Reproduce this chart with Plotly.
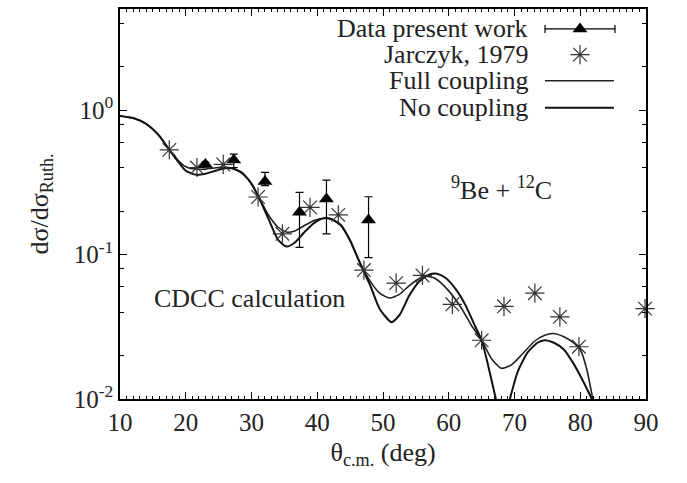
import plotly.graph_objects as go

# ---- data ----
data_x = [23.0, 27.3, 32.05, 37.3, 41.4, 47.8]
data_y = [0.42, 0.45, 0.32, 0.196, 0.242, 0.173]
data_err_plus = [0.015, 0.045, 0.05, 0.073, 0.085, 0.078]
data_err_minus = [0.015, 0.05, 0.02, 0.084, 0.103, 0.078]

jar_x = [17.5, 21.7, 25.7, 31.0, 34.7, 38.9, 43.2, 47.1, 52.0, 56.0, 60.55, 65.0, 68.4, 73.1, 76.9, 79.8, 89.85]
jar_y = [0.53, 0.40, 0.42, 0.25, 0.139, 0.212, 0.188, 0.078, 0.0634, 0.0716, 0.0452, 0.0255, 0.0438, 0.054, 0.037, 0.023, 0.0422]

full_x = [10, 12, 14, 16, 17.5, 19, 20, 21.5, 23, 25, 26.5, 28, 29.5, 31, 32.5, 34, 35.3, 36.5, 38, 39.5, 41, 42,
          43.5, 45, 46.5, 48, 49.5, 51, 52.5, 54, 55.5, 56.6, 58, 60, 62, 63.5, 65, 66.5, 68, 69.5, 71, 73, 74.5,
          75.9, 77.5, 79, 80, 81, 81.9, 82.5]
full_y = [0.91, 0.88, 0.80, 0.66, 0.53, 0.44, 0.405, 0.39, 0.39, 0.40, 0.40, 0.38, 0.33, 0.255, 0.19, 0.155, 0.143,
          0.145, 0.158, 0.172, 0.178, 0.176, 0.160, 0.125, 0.088, 0.066, 0.054, 0.050, 0.053, 0.061, 0.068, 0.0707,
          0.068, 0.056, 0.042, 0.032, 0.0255, 0.019, 0.0163, 0.0172, 0.020, 0.025, 0.0275, 0.0284, 0.027, 0.0245,
          0.022, 0.016, 0.0100, 0.007]

noc_x = [10, 12, 14, 16, 17.5, 19, 20, 21.6, 23, 24.5, 26, 27, 28.5, 30, 31, 32.5, 34, 35.3, 36.5, 38, 39.5, 41, 42,
         43.5, 45, 46.5, 48, 49.5, 51.3, 52.5, 54, 55.5, 57, 58.2, 59.5, 61, 62.5, 64, 65, 66, 67, 68.3, 69.3, 70.5,
         72, 73.5, 74.6, 76, 77.5, 79, 80, 81, 81.8, 82.3]
noc_y = [0.91, 0.88, 0.80, 0.66, 0.53, 0.43, 0.38, 0.356, 0.362, 0.38, 0.395, 0.395, 0.37, 0.31, 0.255, 0.18, 0.127,
         0.1135, 0.12, 0.142, 0.165, 0.178, 0.177, 0.162, 0.125, 0.087, 0.062, 0.042, 0.034, 0.038, 0.052, 0.065,
         0.0725, 0.0736, 0.069, 0.058, 0.045, 0.032, 0.0255, 0.017, 0.0108, 0.0065, 0.0100, 0.0155, 0.021, 0.0245,
         0.0255, 0.0245, 0.022, 0.0175, 0.0145, 0.0118, 0.0098, 0.007]

y_tickvals = [0.01, 0.1, 1]
y_ticktext = ["10<sup>-2</sup>", "10<sup>-1</sup>", "10<sup>0</sup>"]
y_minor = [0.02, 0.04, 0.06, 0.08, 0.2, 0.4, 0.6, 0.8, 2, 4]

legend_labels = ["Data present work", "Jarczyk, 1979", "Full coupling", "No coupling"]

FONT = "Liberation Serif, Times New Roman, serif"
FS = 26
TFS = 25
TXT = "#222"

fig = go.Figure()

fig.add_trace(go.Scatter(x=full_x, y=full_y, mode="lines", line=dict(color="#222", width=1.6, shape="spline", smoothing=0.6),
                         showlegend=False))
fig.add_trace(go.Scatter(x=noc_x, y=noc_y, mode="lines", line=dict(color="#111", width=2, shape="spline", smoothing=0.6),
                         showlegend=False))
fig.add_trace(go.Scatter(x=jar_x, y=jar_y, mode="markers",
                         marker=dict(symbol="asterisk-open", size=16, color="#333", line=dict(color="#333", width=1.2)),
                         showlegend=False, cliponaxis=False))
fig.add_trace(go.Scatter(x=data_x, y=data_y, mode="markers",
                         marker=dict(symbol="triangle-up", size=13, color="black"),
                         error_y=dict(type="data", symmetric=False, array=data_err_plus, arrayminus=data_err_minus,
                                      color="black", thickness=1.2, width=4),
                         showlegend=False))

# ---- manual gnuplot-style key (overlay axes in [0,1]) ----
key_y = [0.949, 0.883, 0.816, 0.747]
key_text_x = 0.7795
key_l, key_c, key_r = 0.808, 0.8745, 0.939
fig.add_trace(go.Scatter(x=[key_c], y=[key_y[0]], xaxis="x2", yaxis="y2", mode="markers",
                         marker=dict(symbol="triangle-up", size=13, color="black"),
                         error_x=dict(type="constant", value=key_c - key_l, color="black", thickness=1.2, width=4),
                         showlegend=False))
fig.add_trace(go.Scatter(x=[key_c], y=[key_y[1]], xaxis="x2", yaxis="y2", mode="markers",
                         marker=dict(symbol="asterisk-open", size=16, color="#333", line=dict(color="#333", width=1.2)),
                         showlegend=False))
fig.add_trace(go.Scatter(x=[key_l, key_r], y=[key_y[2], key_y[2]], xaxis="x2", yaxis="y2", mode="lines",
                         line=dict(color="#222", width=1.6), showlegend=False))
fig.add_trace(go.Scatter(x=[key_l, key_r], y=[key_y[3], key_y[3]], xaxis="x2", yaxis="y2", mode="lines",
                         line=dict(color="#111", width=2), showlegend=False))

annotations = []
for lbl, yy in zip(legend_labels, key_y):
    annotations.append(dict(text=lbl, x=key_text_x, y=yy, xref="paper", yref="paper", xanchor="right",
                            yanchor="middle", showarrow=False, font=dict(family=FONT, size=FS, color=TXT)))
annotations.append(dict(text="CDCC calculation", x=0.247, y=0.258, xref="paper", yref="paper", xanchor="center",
                        yanchor="middle", showarrow=False, font=dict(family=FONT, size=FS, color=TXT)))
annotations.append(dict(text="<sup>9</sup>Be + <sup>12</sup>C", x=0.726, y=0.541, xref="paper", yref="paper",
                        xanchor="center", yanchor="middle", showarrow=False,
                        font=dict(family=FONT, size=FS, color=TXT)))

axis_common = dict(showline=True, linecolor="black", linewidth=1.5, mirror="allticks", ticks="inside",
                   tickcolor="black", showgrid=False, zeroline=False,
                   tickfont=dict(family=FONT, size=TFS, color=TXT))

fig.update_layout(
    width=687, height=483,
    margin=dict(l=120, r=41, t=7, b=84),
    plot_bgcolor="white", paper_bgcolor="white",
    font=dict(family=FONT, size=FS, color=TXT),
    xaxis=dict(range=[10, 90], dtick=10, tick0=10, ticklen=7, tickwidth=1,
               minor=dict(dtick=1, tick0=10, ticks="inside", ticklen=3, tickcolor="black", tickwidth=1),
               title=dict(text="θ<sub>c.m.</sub> (deg)", font=dict(family=FONT, size=FS, color=TXT), standoff=8),
               **axis_common),
    yaxis=dict(type="log", range=[-2, 0.699], tickmode="array", tickvals=y_tickvals, ticktext=y_ticktext,
               ticklen=7, tickwidth=1,
               minor=dict(tickmode="array", tickvals=y_minor, ticks="inside", ticklen=4, tickcolor="black",
                          tickwidth=1),
               title=dict(text="dσ/dσ<sub>Ruth.</sub>", font=dict(family=FONT, size=FS, color=TXT), standoff=18),
               **axis_common),
    xaxis2=dict(overlaying="x", range=[0, 1], visible=False),
    yaxis2=dict(overlaying="y", range=[0, 1], visible=False),
    annotations=annotations,
)

fig.write_html("out.html")
